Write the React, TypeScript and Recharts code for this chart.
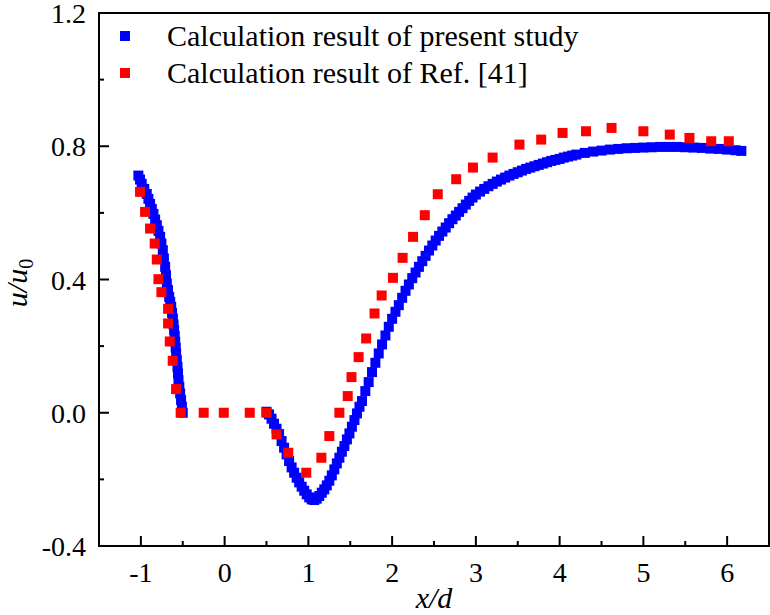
import { ScatterChart, Scatter, XAxis, YAxis, ReferenceArea, Label } from 'recharts';

const FONT = '"Liberation Serif", "Times New Roman", serif';

// present study (blue)
const presentX = [
  -1.03, -1.01, -0.99, -0.96, -0.93, -0.91, -0.89, -0.87, -0.85, -0.83, -0.81, -0.79, -0.77, -0.755, -0.738,
  -0.725, -0.71, -0.7, -0.69, -0.676, -0.662, -0.65, -0.638, -0.628, -0.618, -0.61, -0.603, -0.596, -0.59,
  -0.584, -0.579, -0.571, -0.563, -0.557, -0.551, -0.541, -0.531, -0.52, -0.51, -0.5,
  0.5, 0.53, 0.56, 0.59, 0.62, 0.65, 0.68, 0.71, 0.74, 0.77, 0.8, 0.83, 0.86, 0.89, 0.92, 0.95, 0.98, 1.01,
  1.04, 1.07, 1.1, 1.13, 1.16, 1.19, 1.22, 1.25, 1.28, 1.31, 1.34, 1.37, 1.4, 1.43, 1.46, 1.49, 1.52, 1.55,
  1.58, 1.61, 1.64, 1.68, 1.72, 1.76, 1.8, 1.84, 1.88, 1.92, 1.96, 2.0, 2.04, 2.08, 2.12, 2.16, 2.2, 2.24,
  2.28, 2.32, 2.36, 2.4, 2.44, 2.48, 2.52, 2.56, 2.6, 2.64, 2.68, 2.72, 2.76, 2.8, 2.84, 2.88, 2.92, 2.96,
  3.0, 3.05, 3.1, 3.15, 3.2, 3.25, 3.3, 3.35, 3.4, 3.45, 3.5, 3.55, 3.6, 3.65, 3.7, 3.75, 3.8, 3.85, 3.9,
  3.95, 4.0, 4.05, 4.1, 4.15, 4.2, 4.3, 4.4, 4.5, 4.6, 4.7, 4.8, 4.9, 5.0, 5.1, 5.2, 5.3, 5.4, 5.5, 5.6,
  5.7, 5.8, 5.9, 6.0, 6.1, 6.17,
];
const presentU = [
  0.712, 0.7, 0.687, 0.672, 0.657, 0.642, 0.627, 0.612, 0.597, 0.58, 0.563, 0.546, 0.528, 0.508, 0.488,
  0.463, 0.438, 0.413, 0.388, 0.368, 0.348, 0.333, 0.318, 0.3, 0.283, 0.265, 0.248, 0.23, 0.213,
  0.195, 0.178, 0.158, 0.138, 0.118, 0.098, 0.078, 0.058, 0.038, 0.018, 0.0,
  0.003, -0.005, -0.018, -0.033, -0.048, -0.064, -0.085, -0.105, -0.125, -0.145, -0.164, -0.18, -0.195,
  -0.209, -0.222, -0.234, -0.245, -0.254, -0.26, -0.262, -0.258, -0.25, -0.24, -0.23, -0.218, -0.204,
  -0.188, -0.17, -0.152, -0.135, -0.117, -0.1, -0.08, -0.062, -0.042, -0.022,
  -0.002, 0.018, 0.035, 0.065, 0.092, 0.122, 0.15, 0.178, 0.205, 0.232, 0.258, 0.282, 0.303, 0.323, 0.345,
  0.366, 0.385, 0.404, 0.421, 0.438, 0.455, 0.471, 0.487, 0.502, 0.517, 0.531, 0.544, 0.556, 0.569, 0.581,
  0.592, 0.603, 0.614, 0.625, 0.636, 0.646,
  0.655, 0.664, 0.672, 0.68, 0.687, 0.694, 0.7, 0.706, 0.712, 0.717, 0.722, 0.727, 0.732, 0.736, 0.74,
  0.744, 0.748, 0.752, 0.756, 0.759, 0.762, 0.766, 0.769, 0.772, 0.775, 0.78, 0.784, 0.787, 0.79, 0.792,
  0.794, 0.795, 0.796, 0.797, 0.798, 0.798, 0.798, 0.797, 0.796, 0.795, 0.793, 0.792, 0.79, 0.788, 0.786,
];

// Ref. [41] (red)
const refX = [
  -1.01, -0.95, -0.89, -0.835, -0.81, -0.79, -0.755, -0.675, -0.675, -0.655, -0.62, -0.58, -0.525, -0.25,
  -0.01, 0.3, 0.5, 0.62, 0.76, 0.975, 1.155, 1.25, 1.37, 1.47, 1.515, 1.6, 1.69, 1.79, 1.875, 2.01, 2.125,
  2.25, 2.39, 2.545, 2.765, 2.965, 3.2, 3.52, 3.78, 4.035, 4.315, 4.62, 5.0, 5.315, 5.55, 5.81, 6.02,
];
const refU = [
  0.663, 0.603, 0.553, 0.508, 0.46, 0.401, 0.362, 0.312, 0.268, 0.214, 0.156, 0.071, 0.0, 0.0,
  0.0, 0.0, 0.0, -0.065, -0.12, -0.18, -0.135, -0.07, 0.0, 0.05, 0.107, 0.167, 0.223, 0.298, 0.352, 0.405, 0.465,
  0.528, 0.593, 0.656, 0.701, 0.736, 0.766, 0.805, 0.82, 0.84, 0.845, 0.855, 0.845, 0.835, 0.825, 0.815, 0.815,
];

const xTicks = [-1, -0.5, 0, 0.5, 1, 1.5, 2, 2.5, 3, 3.5, 4, 4.5, 5, 5.5, 6];
const yTicks = [-0.4, -0.2, 0, 0.2, 0.4, 0.6, 0.8, 1.0, 1.2];

const SERIES = [
  { name: 'Calculation result of present study', color: '#0000ff' },
  { name: 'Calculation result of Ref. [41]', color: '#ff0000' },
];

const presentData = presentX.map((x, i) => ({ x, y: presentU[i] }));
const refData = refX.map((x, i) => ({ x, y: refU[i] }));

const square = (color: string) => (p: any) => (
  <rect x={p.cx - 5} y={p.cy - 5} width={10} height={10} fill={color} />
);

const XTick = ({ x, y, payload }: any) => {
  const v = payload.value;
  const major = Number.isInteger(v);
  return (
    <g>
      <line x1={x} x2={x} y1={y} y2={y - (major ? 10 : 5)} stroke="#000" strokeWidth={2} />
      {major && (
        <text x={x} y={y + 36} textAnchor="middle" fontSize={28} fontFamily={FONT} fill="#000">
          {String(v)}
        </text>
      )}
    </g>
  );
};

const YTick = ({ x, y, payload }: any) => {
  const v = payload.value;
  const major = Math.round(v * 10) % 4 === 0;
  return (
    <g>
      <line x1={x} x2={x + (major ? 10 : 5)} y1={y} y2={y} stroke="#000" strokeWidth={2} />
      {major && (
        <text x={x - 13} y={y + 10} textAnchor="end" fontSize={28} fontFamily={FONT} fill="#000">
          {v.toFixed(1)}
        </text>
      )}
    </g>
  );
};

const XTitle = () => (
  <text x={434} y={608} textAnchor="middle" fontSize={30} fontStyle="italic" fontFamily={FONT} fill="#000">
    x/d
  </text>
);

const YTitle = () => (
  <text
    x={27}
    y={283}
    transform="rotate(-90, 27, 283)"
    textAnchor="middle"
    fontSize={30}
    fontStyle="italic"
    fontFamily={FONT}
    fill="#000"
  >
    u/u
    <tspan fontSize={20} fontStyle="normal" dy={6}>0</tspan>
  </text>
);

export default function App() {
  return (
    <div style={{ position: 'absolute', left: 0, top: 0, width: 770, height: 615, background: '#fff' }}>
      <ScatterChart width={770} height={615} margin={{ top: 13, right: 1, left: 0, bottom: 0 }}>
        <XAxis
          type="number"
          dataKey="x"
          domain={[-1.5, 6.5]}
          ticks={xTicks}
          interval={0}
          height={69}
          axisLine={false}
          tickLine={false}
          tickSize={0}
          tickMargin={0}
          tick={<XTick />}
        >
          <Label content={<XTitle />} />
        </XAxis>
        <YAxis
          type="number"
          dataKey="y"
          domain={[-0.4, 1.2]}
          ticks={yTicks}
          interval={0}
          width={99}
          axisLine={false}
          tickLine={false}
          tickSize={0}
          tickMargin={0}
          tick={<YTick />}
        >
          <Label content={<YTitle />} />
        </YAxis>
        <ReferenceArea x1={-1.5} x2={6.5} y1={-0.4} y2={1.2} fill="none" stroke="#000" strokeWidth={2} fillOpacity={0} />
        <Scatter name={SERIES[0].name} data={presentData} fill={SERIES[0].color} shape={square(SERIES[0].color)} isAnimationActive={false} />
        <Scatter name={SERIES[1].name} data={refData} fill={SERIES[1].color} shape={square(SERIES[1].color)} isAnimationActive={false} />
      </ScatterChart>
      <div style={{ position: 'absolute', left: 120, top: 18, fontFamily: FONT, fontSize: 30, lineHeight: '36.5px', color: '#000' }}>
        {SERIES.map((s) => (
          <div key={s.name} style={{ display: 'flex', alignItems: 'center', whiteSpace: 'nowrap' }}>
            <span style={{ display: 'inline-block', width: 10, height: 10, background: s.color, marginRight: 37 }} />
            <span>{s.name}</span>
          </div>
        ))}
      </div>
    </div>
  );
}
